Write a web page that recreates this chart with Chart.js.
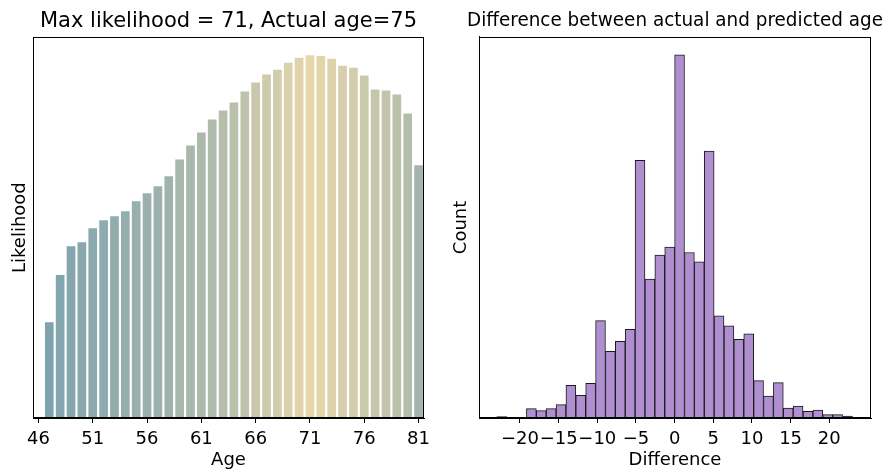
<!DOCTYPE html>
<html lang="en">

<head>
    <meta charset="UTF-8">
    <script src="https://cdn.jsdelivr.net/npm/chart.js"></script>
    <title>Age prediction</title>
    <style>
        body { margin: 0; background: white; }
        .painel { position: absolute; top: 0; height: 471px; }
    </style>
</head>

<body>
    <div class="painel" style="left:0; width:440px;">
        <canvas id="chartLikelihood" width="440" height="471"></canvas>
    </div>
    <div class="painel" style="left:440px; width:444px;">
        <canvas id="chartDiff" width="444" height="471"></canvas>
    </div>
</body>

</html>
<script>

    // ---- dados do grafico da esquerda ----
    const idades = [47, 48, 49, 50, 51, 52, 53, 54, 55, 56, 57, 58, 59, 60, 61, 62, 63, 64,
        65, 66, 67, 68, 69, 70, 71, 72, 73, 74, 75, 76, 77, 78, 79, 80, 81];
    const likelihood = [0.0288, 0.0430, 0.0517, 0.0529, 0.0571, 0.0595, 0.0607, 0.0622, 0.0652,
        0.0676, 0.0697, 0.0727, 0.0778, 0.0820, 0.0859, 0.0898, 0.0925, 0.0949, 0.0982, 0.1009,
        0.1033, 0.1048, 0.1069, 0.1084, 0.1091, 0.1089, 0.1081, 0.1060, 0.1054, 0.1030, 0.0988,
        0.0985, 0.0973, 0.0916, 0.0760];
    const ticksIdade = [46, 51, 56, 61, 66, 71, 76, 81];

    // ---- dados do histograma da direita ----
    const binInicio = -23;
    const binFim = 23;
    const contagens = [2, 1, 1, 14, 11, 14, 20, 49, 34, 52, 146, 100, 115, 133, 386, 208, 244, 256,
        544, 248, 234, 400, 153, 138, 118, 126, 56, 33, 53, 15, 18, 10, 12, 5, 5, 3];
    const ticksDiff = [-20, -15, -10, -5, 0, 5, 10, 15, 20];

    const fonte = 'DejaVu Sans';
    Chart.defaults.font.family = fonte;
    Chart.defaults.color = '#000';

    // moldura preta em volta da area do grafico (estilo matplotlib)
    const moldura = {
        id: 'moldura',
        afterDraw(chart) {
            const a = chart.chartArea;
            const ctx = chart.ctx;
            ctx.save();
            ctx.strokeStyle = '#000';
            ctx.lineWidth = 1;
            ctx.strokeRect(Math.round(a.left) + 0.5, Math.round(a.top) + 0.5,
                Math.round(a.right - a.left) - 1, Math.round(a.bottom - a.top) - 1);
            ctx.restore();
        }
    };

    // cor de cada barra pelo ranking do valor (azul acinzentado -> bege)
    const corBaixa = [127, 163, 174];
    const corAlta = [230, 214, 170];
    const ordenados = [...likelihood].sort((a, b) => a - b);
    const coresBarras = likelihood.map(v => {
        const t = ordenados.indexOf(v) / (ordenados.length - 1);
        const c = corBaixa.map((b, i) => Math.round(b + (corAlta[i] - b) * t));
        return `rgb(${c[0]},${c[1]},${c[2]})`;
    });

    function eixoX(min, max, ticks, titulo, formatar) {
        return {
            type: 'linear',
            min: min,
            max: max,
            offset: false,
            afterBuildTicks(s) { s.ticks = ticks.map(v => ({ value: v })); },
            afterFit(s) { s.height = 53; },
            grid: { display: true, offset: false, drawOnChartArea: false, drawTicks: true, tickLength: 5, color: '#000' },
            border: { display: true, color: '#000', width: 1 },
            ticks: { font: { size: 18 }, padding: 6, maxRotation: 0, autoSkip: false, callback: formatar },
            title: { display: true, text: titulo, font: { size: 18 }, padding: { top: -4, bottom: 0 } }
        };
    }

    function eixoY(max, largura, titulo, pad) {
        return {
            min: 0,
            max: max,
            afterFit(s) { s.width = largura; },
            grid: { display: false },
            border: { display: true, color: '#000', width: 1 },
            ticks: { display: false },
            title: { display: true, text: titulo, font: { size: 18 }, padding: { top: pad, bottom: 0 } }
        };
    }

    // ---- grafico da esquerda ----
    new Chart(document.getElementById('chartLikelihood'), {
        type: 'bar',
        data: {
            datasets: [{
                data: idades.map((x, i) => ({ x: x, y: likelihood[i] })),
                backgroundColor: coresBarras,
                borderWidth: 0,
                barPercentage: 0.8,
                categoryPercentage: 1
            }]
        },
        options: {
            responsive: false,
            animation: false,
            layout: { padding: { left: 0, right: 16, top: 0, bottom: 0 } },
            plugins: {
                legend: { display: false },
                tooltip: { enabled: false },
                title: {
                    display: true,
                    fullSize: false,
                    text: 'Max likelihood = 71, Actual age=75',
                    font: { size: 21, weight: 'normal' },
                    padding: { top: 9, bottom: 3 }
                }
            },
            scales: {
                x: eixoX(45.5, 81.5, ticksIdade, 'Age', v => String(v)),
                y: eixoY(Math.max(...likelihood) * 1.05, 33, 'Likelihood', 10)
            }
        },
        plugins: [moldura]
    });

    // ---- histograma da direita ----
    // o titulo e mais largo que a area do grafico: padding esquerdo + um eixo
    // vazio a direita deixam a caixa do titulo mais larga e centrada no grafico
    const larguraBin = (binFim - binInicio) / contagens.length;
    new Chart(document.getElementById('chartDiff'), {
        type: 'bar',
        data: {
            datasets: [{
                data: contagens.map((c, i) => ({ x: binInicio + (i + 0.5) * larguraBin, y: c })),
                backgroundColor: 'rgb(176,143,208)',
                borderColor: '#1a1a1a',
                borderWidth: 1,
                barPercentage: 1,
                categoryPercentage: 1
            }]
        },
        options: {
            responsive: false,
            animation: false,
            layout: { padding: { left: 27, right: 1, top: 0, bottom: 0 } },
            plugins: {
                legend: { display: false },
                tooltip: { enabled: false },
                title: {
                    display: true,
                    text: 'Difference between actual and predicted age',
                    font: { size: 19, weight: 'normal' },
                    padding: { top: 10, bottom: 4 }
                }
            },
            scales: {
                x: eixoX(-25.3, 25.4, ticksDiff, 'Difference', v => String(v).replace('-', '\u2212')),
                y: eixoY(Math.max(...contagens) * 1.05, 12, 'Count', -16),
                yVazio: {
                    position: 'right',
                    display: true,
                    afterFit(s) { s.width = 12; },
                    grid: { display: false },
                    border: { display: false },
                    ticks: { display: false }
                }
            }
        },
        plugins: [moldura]
    });

</script>
